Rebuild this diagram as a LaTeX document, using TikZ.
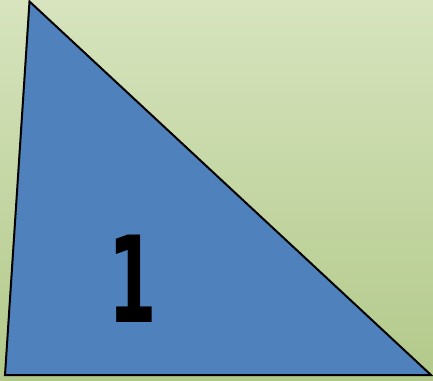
\documentclass[tikz,border=0pt]{standalone}
\usepackage{fontspec}
\newfontfamily\numfont{DejaVu Sans}
\definecolor{bgtop}{HTML}{D7E4BE}
\definecolor{bgbot}{HTML}{B2C98A}
\definecolor{triblue}{HTML}{4F81BD}
\tikzset{tri/.style={fill=triblue,draw=black,line width=2pt,line join=miter}}
\begin{document}
\begin{tikzpicture}[x=1pt,y=1pt]
\shade[top color=bgtop,bottom color=bgbot] (0,0) rectangle (433,380);
\useasboundingbox (0,0) rectangle (433,380);
\coordinate (A) at (29.5,378.5);
\coordinate (B) at (5,5);
\coordinate (C) at (431,5);
\draw[tri] (A) -- (B) -- (C) -- cycle;
\node[inner sep=0pt,xscale=0.58,font=\numfont\bfseries\fontsize{120}{120}\selectfont] (one) at (133,101) {1};
\end{tikzpicture}
\end{document}
